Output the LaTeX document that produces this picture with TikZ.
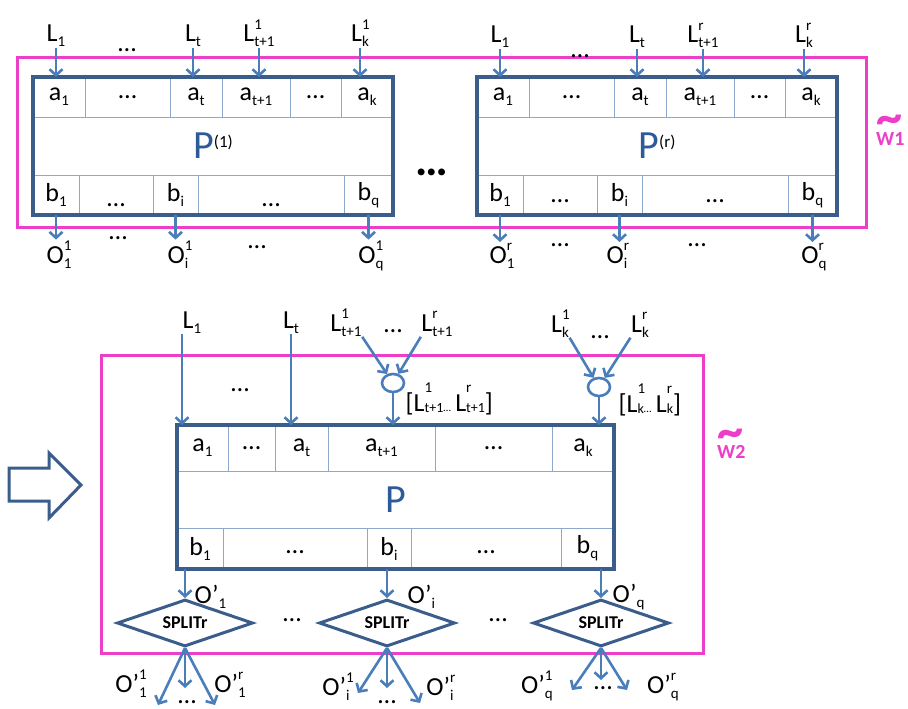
\documentclass[tikz,border=0pt]{standalone}
\usepackage{fontspec}
\setmainfont{Carlito}
\usepackage{xcolor}
\usepackage{tikz}
\usetikzlibrary{positioning,arrows.meta,shapes.geometric,fit}
\definecolor{cframe}{HTML}{3A5D8C}
\definecolor{carrow}{HTML}{4A7EBB}
\definecolor{cdiv}{HTML}{8DA8CF}
\definecolor{cwin}{HTML}{EC3EC8}
\definecolor{cpee}{HTML}{2D5A98}
\newcommand{\mainfnt}{\fontsize{26}{28}\selectfont}
\newcommand{\subfnt}{\fontsize{15}{15}\selectfont}
\newcommand{\Ls}[2]{#1\raisebox{-5pt}{\subfnt #2}}
\newcommand{\Lss}[3]{#1\rlap{\raisebox{13pt}{\subfnt #2}}\raisebox{-5pt}{\subfnt #3}}
\newcommand{\Lm}[2]{L\rlap{\raisebox{19pt}{\subfnt #1}}\raisebox{-1pt}{\fontsize{14}{14}\selectfont #2}}
\newcommand{\mdots}{{\fontsize{11}{11}\selectfont…}}
\newcommand{\bigP}[1]{\textcolor{cpee}{\fontsize{40}{40}\selectfont P}\raisebox{11pt}{\fontsize{17}{17}\selectfont #1}}
\newcommand{\wt}[1]{\rlap{\raisebox{10pt}{\scalebox{1.45}{\fontsize{36}{36}\selectfont\textasciitilde}}}#1}

\begin{document}
\begin{tikzpicture}[
  x=1pt, y=-1pt,
  lab/.style={font=\mainfnt, inner sep=0.5pt},
  dotlab/.style={font=\mainfnt, inner sep=0pt},
  cell/.style={draw=cdiv, line width=1pt, minimum height=40pt, inner sep=0pt, outer sep=0pt, anchor=west, font=\mainfnt},
  lowdot/.style={text height=#1, text depth=0pt},
  pframe/.style={draw=cframe, line width=3.4pt, inner sep=0pt},
  arr/.style={draw=carrow, line width=2.6pt, -{Straight Barb[length=6pt,width=13pt]}},
  wbox/.style={draw=cwin, line width=3pt},
  wlab/.style={text=cwin, font=\fontsize{20}{20}\selectfont\bfseries, inner sep=0pt},
  splitbox/.style={diamond, draw=cframe, line width=3pt, aspect=2.9, minimum width=136pt, minimum height=47pt, inner sep=0pt, font=\fontsize{18}{18}\selectfont\bfseries},
  joint/.style={ellipse, draw=carrow, line width=2.6pt, minimum width=22pt, minimum height=18pt, inner sep=0pt},
  hollow/.style={draw=cframe, line width=3pt},
]
\useasboundingbox (0,0) rectangle (908,709);
% ---------- windows ----------
\draw[wbox] (17,58) rectangle (866,227);
\node[wlab, anchor=base west] (w1) at (876,145) {\wt{W1}};
\draw[wbox] (101,355) rectangle (703,653);
\node[wlab, anchor=base west] (w2) at (717,458) {\wt{W2}};
% ---------- P(1) ----------
\begin{scope}
  \node[cell, minimum width=52pt] (pa1) at (33,97) {\Ls{a}{1}};
  \node[cell, minimum width=85pt, right=0pt of pa1] (pa2) {…};
  \node[cell, minimum width=52pt, right=0pt of pa2] (pa3) {\Ls{a}{t}};
  \node[cell, minimum width=68pt, right=0pt of pa3] (pa4) {\Ls{a}{t+1}};
  \node[cell, minimum width=51pt, right=0pt of pa4] (pa5) {…};
  \node[cell, minimum width=52pt, right=0pt of pa5] (pa6) {\Ls{a}{k}};
  \node[cell, minimum width=360pt, minimum height=58pt] (pmid) at (33,146) {\bigP{(1)}};
  \node[cell, minimum width=46pt] (pb1) at (33,195) {\Ls{b}{1}};
  \node[cell, minimum width=74pt, lowdot=23pt, right=0pt of pb1] (pb2) {…};
  \node[cell, minimum width=45pt, right=0pt of pb2] (pb3) {\Ls{b}{i}};
  \node[cell, minimum width=146pt, lowdot=23pt, right=0pt of pb3] (pb4) {…};
  \node[cell, minimum width=49pt, right=0pt of pb4] (pb5) {\Ls{b}{q}};
  \node[pframe, fit=(pa1)(pb5)] (pone) {};
  \node[lab, anchor=base] (pl1) at (56,42) {\Ls{L}{1}};
  \node[dotlab] (pld) at (127,50) {…};
  \node[lab, anchor=base] (plt) at (193,42) {\Ls{L}{t}};
  \node[lab, anchor=base] (pln) at (259,42) {\Lss{L}{1}{t+1}};
  \node[lab, anchor=base] (plk) at (360,42) {\Lss{L}{1}{k}};
  \draw[arr] (pl1.south) -- (pl1.south |- pa1.north);
  \draw[arr] (plt.south) -- (plt.south |- pa3.north);
  \draw[arr] (pln.south) -- (pln.south |- pa4.north);
  \draw[arr] (plk.south) -- (plk.south |- pa6.north);
  \node[lab, anchor=base] (po1) at (59,263) {\Lss{O}{1}{1}};
  \node[dotlab] (pod1) at (118,238) {…};
  \node[lab, anchor=base] (poi) at (178,263) {\Lss{O}{1}{i}};
  \node[dotlab] (pod2) at (257,247) {…};
  \node[lab, anchor=base] (poq) at (371,263) {\Lss{O}{1}{q}};
  \draw[arr] (pb1.south) -- (pb1.south |- po1.north);
  \draw[arr] (pb3.south) -- (pb3.south |- poi.north);
  \draw[arr] (pb5.south) -- (pb5.south |- poq.north);
\end{scope}
\node[dotlab, font=\fontsize{46}{46}\selectfont\bfseries] (gap) at (432,172) {…};
% ---------- P(r) ----------
\begin{scope}[xshift=444pt]
  \node[cell, minimum width=52pt] (ra1) at (33,97) {\Ls{a}{1}};
  \node[cell, minimum width=85pt, right=0pt of ra1] (ra2) {…};
  \node[cell, minimum width=52pt, right=0pt of ra2] (ra3) {\Ls{a}{t}};
  \node[cell, minimum width=68pt, right=0pt of ra3] (ra4) {\Ls{a}{t+1}};
  \node[cell, minimum width=51pt, right=0pt of ra4] (ra5) {…};
  \node[cell, minimum width=52pt, right=0pt of ra5] (ra6) {\Ls{a}{k}};
  \node[cell, minimum width=360pt, minimum height=58pt] (rmid) at (33,146) {\bigP{(r)}};
  \node[cell, minimum width=46pt] (rb1) at (33,195) {\Ls{b}{1}};
  \node[cell, minimum width=74pt, lowdot=14pt, right=0pt of rb1] (rb2) {…};
  \node[cell, minimum width=45pt, right=0pt of rb2] (rb3) {\Ls{b}{i}};
  \node[cell, minimum width=146pt, lowdot=14pt, right=0pt of rb3] (rb4) {…};
  \node[cell, minimum width=49pt, right=0pt of rb4] (rb5) {\Ls{b}{q}};
  \node[pframe, fit=(ra1)(rb5)] (rone) {};
  \node[lab, anchor=base] (rl1) at (56,43) {\Ls{L}{1}};
  \node[dotlab] (rld) at (136,56) {…};
  \node[lab, anchor=base] (rlt) at (193,43) {\Ls{L}{t}};
  \node[lab, anchor=base] (rln) at (259,43) {\Lss{L}{r}{t+1}};
  \node[lab, anchor=base] (rlk) at (360,43) {\Lss{L}{r}{k}};
  \draw[arr] (rl1.south) -- (rl1.south |- ra1.north);
  \draw[arr] (rlt.south) -- (rlt.south |- ra3.north);
  \draw[arr] (rln.south) -- (rln.south |- ra4.north);
  \draw[arr] (rlk.south) -- (rlk.south |- ra6.north);
  \node[lab, anchor=base] (ro1) at (58,263) {\Lss{O}{r}{1}};
  \node[dotlab] (rod1) at (116,245) {…};
  \node[lab, anchor=base] (roi) at (173,263) {\Lss{O}{r}{i}};
  \node[dotlab] (rod2) at (253,245) {…};
  \node[lab, anchor=base] (roq) at (370,263) {\Lss{O}{r}{q}};
  \draw[arr] (rb1.south) -- (rb1.south |- ro1.north);
  \draw[arr] (rb3.south) -- (rb3.south |- roi.north);
  \draw[arr] (rb5.south) -- (rb5.south |- roq.north);
\end{scope}
% ---------- hollow arrow ----------
\draw[hollow] (9,468) -- (49,468) -- (49,453) -- (81,485) -- (49,518) -- (49,501) -- (9,501) -- cycle;
% ---------- P ----------
\node[cell, minimum width=51pt, minimum height=46pt] (a1) at (177,448) {\Ls{a}{1}};
\node[cell, minimum width=47pt, minimum height=46pt, right=0pt of a1] (a2) {…};
\node[cell, minimum width=53pt, minimum height=46pt, right=0pt of a2] (a3) {\Ls{a}{t}};
\node[cell, minimum width=107pt, minimum height=46pt, right=0pt of a3] (a4) {\Ls{a}{t+1}};
\node[cell, minimum width=117pt, minimum height=46pt, right=0pt of a4] (a5) {…};
\node[cell, minimum width=62pt, minimum height=46pt, right=0pt of a5] (a6) {\Ls{a}{k}};
\node[cell, minimum width=437pt, minimum height=57pt] (pmain) at (177,499.5) {\textcolor{cpee}{\fontsize{40}{40}\selectfont P}};
\node[cell, minimum width=46pt, minimum height=41pt] (b1) at (177,548.5) {\Ls{b}{1}};
\node[cell, minimum width=144pt, minimum height=41pt, lowdot=10pt, right=0pt of b1] (b2) {…};
\node[cell, minimum width=44pt, minimum height=41pt, right=0pt of b2] (b3) {\Ls{b}{i}};
\node[cell, minimum width=150pt, minimum height=41pt, lowdot=10pt, right=0pt of b3] (b4) {…};
\node[cell, minimum width=53pt, minimum height=41pt, right=0pt of b4] (b5) {\Ls{b}{q}};
\node[pframe, fit=(a1)(b5)] (pbig) {};
% inputs
\node[lab, anchor=base] (l1) at (192,328) {\Ls{L}{1}};
\node[dotlab] (ld) at (240,390) {…};
\node[lab, anchor=base] (lt) at (291,328) {\Ls{L}{t}};
\draw[arr] (l1.south west) -- (l1.south west |- a1.north);
\draw[arr] (lt.south) -- (lt.south |- a3.north);
\node[lab, anchor=base] (ln1) at (346,331) {\Lss{L}{1}{t+1}};
\node[dotlab] (lnd) at (393,331) {…};
\node[lab, anchor=base] (lnr) at (437,331) {\Lss{L}{r}{t+1}};
\node[joint] (c1) at (393,383) {};
\draw[arr] (ln1.south east) -- (c1);
\draw[arr] (lnr.south west) -- (c1);
\draw[arr] (c1) -- (c1 |- a4.north);
\node[lab, anchor=base west] (m1) at (405,411) {[\Lm{1}{t+1}\mdots\,\Lm{r}{t+1}]};
\node[lab, anchor=base] (lk1) at (560,332) {\Lss{L}{1}{k}};
\node[dotlab] (lkd) at (600,337) {…};
\node[lab, anchor=base] (lkr) at (640,332) {\Lss{L}{r}{k}};
\node[joint] (c2) at (599,387) {};
\draw[arr] (lk1.south east) -- (c2);
\draw[arr] (lkr.south west) -- (c2);
\draw[arr] (c2) -- (c2 |- a6.north);
\node[lab, anchor=base west] (m2) at (618,412) {[\Lm{1}{k}\mdots\,\Lm{r}{k}]};
% ---------- splitters ----------
\node[splitbox] (d1) at (185,623) {SPLITr};
\node[dotlab] (dd1) at (292,620) {…};
\node[splitbox] (d2) at (387,623) {SPLITr};
\node[dotlab] (dd2) at (498,620) {…};
\node[splitbox] (d3) at (601,623) {SPLITr};
\draw[arr] (d1.north |- b1.south) -- (d1.north);
\draw[arr] (d2.north |- b3.south) -- (d2.north);
\draw[arr] (d3.north |- b5.south) -- (d3.north);
\node[lab, anchor=base west] (op1) at (194,603) {\Ls{O’}{1}};
\node[lab, anchor=base west] (opi) at (407,603) {\Ls{O’}{i}};
\node[lab, anchor=base west] (opq) at (612,602) {\Ls{O’}{q}};
\coordinate (e1a) at (158,705);
\coordinate (e1b) at (185,688);
\coordinate (e1c) at (215,705);
\coordinate (e2a) at (358,693);
\coordinate (e2b) at (387,688);
\coordinate (e2c) at (420,703);
\coordinate (e3a) at (572,690);
\coordinate (e3b) at (601,680);
\coordinate (e3c) at (627,690);
\foreach \d/\e in {d1/e1, d2/e2, d3/e3}{
  \draw[arr] (\d.south) -- (\e a);
  \draw[arr] (\d.south) -- (\e b);
  \draw[arr] (\d.south) -- (\e c);
}
\node[lab, anchor=base] (q11) at (131,692) {\Lss{O’}{1}{1}};
\node[dotlab] (qd1) at (187,702) {…};
\node[lab, anchor=base] (q1r) at (230,692) {\Lss{O’}{r}{1}};
\node[lab, anchor=base] (qi1) at (336,695) {\Lss{O’}{1}{i}};
\node[dotlab] (qd2) at (387,702) {…};
\node[lab, anchor=base] (qir) at (440,695) {\Lss{O’}{r}{i}};
\node[lab, anchor=base] (qq1) at (537,693) {\Lss{O’}{1}{q}};
\node[dotlab] (qd3) at (603,688) {…};
\node[lab, anchor=base] (qqr) at (663,693) {\Lss{O’}{r}{q}};
\end{tikzpicture}
\end{document}
